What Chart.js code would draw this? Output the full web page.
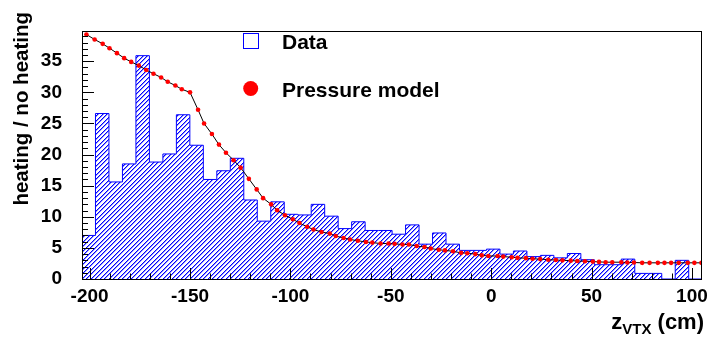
<!DOCTYPE html>
<html>
<head>
<meta charset="utf-8">
<script src="https://cdn.jsdelivr.net/npm/chart.js@4.4.0/dist/chart.umd.min.js"></script>
<style>
  html, body { margin: 0; padding: 0; background: #fff; }
</style>
</head>
<body>
<canvas id="chart" width="714" height="337"></canvas>
<script>
// histogram of heating / no heating vs z_vtx
const histLow = -203.8
const histBinWidth = 6.715
const histValues = [7.0, 26.6, 15.6, 18.5, 35.9, 18.8, 20.1, 26.4, 21.5, 16.0,
    17.4, 19.4, 12.7, 9.3, 12.4, 10.4, 10.3, 12.0, 10.1, 8.1,
    9.2, 7.8, 7.8, 7.2, 8.7, 5.6, 7.4, 5.6, 4.6, 4.6,
    4.8, 4.0, 4.5, 3.6, 3.8, 3.4, 4.1, 3.1, 2.3, 2.3,
    3.2, 0.9, 0.9, 0, 3.0, 0]

// pressure model points
const modelZ = [-201.6, -197.5, -193.5, -190.1, -186.4, -182.8, -179.3, -175.5, -171.8, -168.2,
    -164.4, -161.1, -157.3, -154.1, -150.0, -146.0, -143.0, -139.1, -135.6, -132.1,
    -128.3, -124.8, -120.7, -116.8, -113.6, -109.6, -106.6, -102.7, -98.8, -95.5,
    -91.7, -88.5, -84.5, -80.4, -77.4, -73.5, -70.3, -66.4, -62.4, -59.2,
    -55.1, -51.1, -48.1, -44.2, -41.0, -37.1, -33.2, -30.1, -26.1, -23.0,
    -19.0, -15.0, -11.9, -7.9, -4.7, -1.4, 3.2, 6.0, 10.2, 13.1,
    17.3, 20.6, 24.4, 28.4, 32.2, 35.5, 39.6, 42.9, 46.7, 50.6,
    53.7, 57.0, 60.3, 64.8, 67.8, 71.1, 75.2, 78.9, 83.0, 86.3,
    89.6, 93.4, 97.9, 101.2, 104.7]
const modelRatio = [39.3, 38.5, 37.8, 37.1, 36.3, 35.5, 34.9, 34.3, 33.6, 33.0,
    32.4, 31.7, 31.1, 30.5, 30.0, 27.2, 25.0, 23.3, 21.6, 20.3,
    19.1, 17.9, 16.1, 14.4, 13.0, 12.0, 11.05, 10.25, 9.6, 9.0,
    8.4, 7.95, 7.55, 7.3, 6.9, 6.6, 6.35, 6.15, 5.95, 5.85,
    5.7, 5.7, 5.65, 5.55, 5.55, 5.3, 5.15, 4.9, 4.7, 4.6,
    4.45, 4.2, 4.15, 4.0, 3.8, 3.7, 3.7, 3.6, 3.5, 3.4,
    3.35, 3.25, 3.2, 3.1, 3.05, 3.0, 2.95, 2.9, 2.85, 2.8,
    2.75, 2.7, 2.7, 2.7, 2.65, 2.65, 2.6, 2.6, 2.6, 2.6,
    2.6, 2.6, 2.6, 2.6, 2.6]

// axis ticks
const xTickLabels = [-200, -150, -100, -50, 0, 50, 100]
const yTickLabels = [0, 5, 10, 15, 20, 25, 30, 35]
const xMinorStep = 10
const yMinorStep = 1

const blue = '#0000ff'
const red = '#ff0000'
const fontName = '"Liberation Sans", Arial, Helvetica, sans-serif'

// hatch pattern "/" like root fill style
function makeHatch() {
    const n = 9
    const c = document.createElement('canvas')
    c.width = n
    c.height = n
    const cx = c.getContext('2d')
    const img = cx.createImageData(n, n)
    for (let y = 0; y < n; y++) {
        for (let x = 0; x < n; x++) {
            const k = (x + y) % n
            let a = 0
            if (k === 0 || k === 4) a = 255
            else if (k === 1 || k === 5) a = 110
            const p = (y * n + x) * 4
            img.data[p] = 0
            img.data[p + 1] = 0
            img.data[p + 2] = 255
            img.data[p + 3] = a
        }
    }
    cx.putImageData(img, 0, 0)
    return cx.createPattern(c, 'repeat')
}

const histPoints = histValues.map((v, i) => ({ x: histLow + i * histBinWidth, y: v }))
histPoints.push({ x: histLow + histValues.length * histBinWidth, y: histValues[histValues.length - 1] })

const modelPoints = modelZ.map((z, i) => ({ x: z, y: modelRatio[i] }))

function rangeTicks(scale, step) {
    const out = []
    const start = Math.ceil(scale.min / step) * step
    for (let v = start; v <= scale.max + 1e-9; v += step) out.push({ value: Math.round(v * 1000) / 1000 })
    scale.ticks = out
}

// frame, inward ticks, axis titles, legend
const rootFrame = {
    id: 'rootFrame',
    afterDatasetsDraw(chart) {
        const { ctx, chartArea: a, scales } = chart
        ctx.save()
        ctx.strokeStyle = '#000'
        ctx.lineWidth = 1
        ctx.beginPath()
        scales.x.ticks.forEach(t => {
            const px = Math.round(scales.x.getPixelForValue(t.value)) + 0.5
            const len = xTickLabels.includes(t.value) ? 11 : 5.5
            ctx.moveTo(px, a.bottom)
            ctx.lineTo(px, a.bottom - len)
        })
        scales.y.ticks.forEach(t => {
            const py = Math.round(scales.y.getPixelForValue(t.value)) + 0.5
            const len = yTickLabels.includes(t.value) ? 12 : 6
            ctx.moveTo(a.left, py)
            ctx.lineTo(a.left + len, py)
        })
        ctx.stroke()
        ctx.strokeRect(Math.round(a.left) + 0.5, Math.round(a.top) + 0.5,
            Math.round(a.right - a.left) - 1, Math.round(a.bottom - a.top))
        ctx.restore()
    },
    afterDraw(chart) {
        const { ctx, chartArea: a } = chart
        ctx.save()
        ctx.fillStyle = '#000'

        // x title with subscript
        ctx.textBaseline = 'alphabetic'
        ctx.textAlign = 'left'
        const big = 'bold 22px ' + fontName
        const small = 'bold 15px ' + fontName
        ctx.font = big
        const w1 = ctx.measureText('z').width
        const w3 = ctx.measureText(' (cm)').width
        ctx.font = small
        const w2 = ctx.measureText('VTX').width
        let x0 = a.right + 2 - (w1 + w2 + w3)
        ctx.font = big
        ctx.fillText('z', x0, 329)
        ctx.font = small
        ctx.fillText('VTX', x0 + w1, 334)
        ctx.font = big
        ctx.fillText(' (cm)', x0 + w1 + w2, 329)

        // y title
        ctx.translate(28, 12)
        ctx.rotate(-Math.PI / 2)
        ctx.textAlign = 'right'
        ctx.font = 'bold 20.5px ' + fontName
        ctx.fillText('heating / no heating', 0, 0)
        ctx.restore()

        // legend
        const ds = chart.data.datasets
        const data = ds.find(d => d.label === 'Data')
        const model = ds.find(d => d.label === 'Pressure model')
        ctx.save()
        ctx.strokeStyle = data.borderColor
        ctx.lineWidth = 1
        ctx.strokeRect(243.5, 33.5, 15, 15)
        ctx.fillStyle = model.pointBackgroundColor
        ctx.beginPath()
        ctx.arc(250.7, 88.5, 7.5, 0, Math.PI * 2)
        ctx.fill()
        ctx.fillStyle = '#000'
        ctx.font = 'bold 21px ' + fontName
        ctx.textAlign = 'left'
        ctx.textBaseline = 'alphabetic'
        ctx.fillText(data.label, 282, 48.5)
        ctx.fillText(model.label, 282, 96.7)
        ctx.restore()
    }
}

const chartElement = document.getElementById('chart')

new Chart(chartElement, {
    type: 'line',
    data: {
        datasets: [{
            label: 'Pressure model',
            data: modelPoints,
            borderColor: '#000000',
            borderWidth: 1,
            pointRadius: 2.3,
            pointBackgroundColor: red,
            pointBorderWidth: 0,
            tension: 0,
            fill: false,
            order: 1
        }, {
            label: 'Data',
            data: histPoints,
            stepped: 'before',
            borderColor: blue,
            borderWidth: 1,
            backgroundColor: makeHatch(),
            fill: 'origin',
            pointRadius: 0,
            order: 2
        }]
    },
    options: {
        responsive: false,
        animation: false,
        devicePixelRatio: 1,
        layout: { padding: { top: 7, right: 11, left: 0, bottom: 0 } },
        plugins: {
            legend: { display: false },
            tooltip: { enabled: false }
        },
        scales: {
            x: {
                type: 'linear',
                min: -203.8,
                max: 105,
                afterBuildTicks: s => rangeTicks(s, xMinorStep),
                afterFit: s => { s.height = 58 },
                grid: { display: false, drawTicks: false },
                border: { display: false },
                ticks: {
                    autoSkip: false,
                    maxRotation: 0,
                    padding: 6,
                    color: '#000',
                    font: { family: fontName, size: 19, weight: 'bold' },
                    callback: v => xTickLabels.includes(v) ? String(v) : ''
                }
            },
            y: {
                min: 0,
                max: 39.8,
                afterBuildTicks: s => rangeTicks(s, yMinorStep),
                afterFit: s => { s.width = 82 },
                grid: { display: false, drawTicks: false },
                border: { display: false },
                ticks: {
                    autoSkip: false,
                    padding: 20,
                    color: '#000',
                    font: { family: fontName, size: 19, weight: 'bold' },
                    callback: v => yTickLabels.includes(v) ? String(v) : ''
                }
            }
        }
    },
    plugins: [rootFrame]
})
</script>
</body>
</html>
